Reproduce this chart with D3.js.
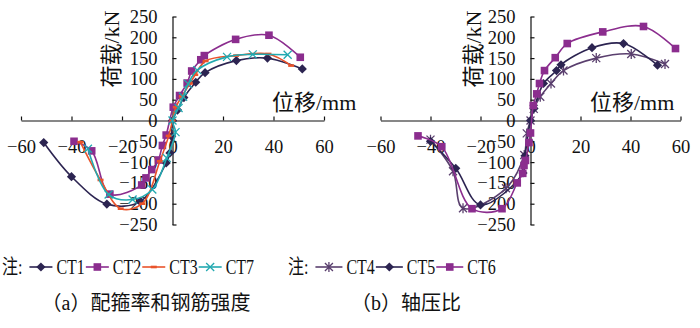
<!DOCTYPE html>
<html>
<head>
<meta charset="utf-8">
<script src="https://cdn.jsdelivr.net/npm/d3@7"></script>
<style>
  html, body { margin: 0; padding: 0; background: #fff; }
  svg { display: block; }
  text { font-family: "Liberation Serif", "Times New Roman", "Noto Sans CJK SC", serif; fill: #111; }
</style>
</head>
<body>
<div id="viz"></div>
<script>
// skeleton curves: [displacement (mm), load (kN)]
const ct1 = [[-51, -53], [-40, -135], [-26, -201], [-12.8, -195], [-2.5, -102], [-1, -78], [-0.3, -38], [0, 0],
  [2, 25], [4.5, 55], [9.2, 92], [12.9, 115], [25.3, 144], [37.6, 150], [51.4, 124]];
const ct2 = [[-39, -50], [-32, -73], [-24.8, -177], [-12.2, -155], [-10.5, -138], [-8.2, -118], [-5.6, -95], [-4, -60], [-2.5, -35],
  [0.3, 32], [2.8, 60], [5.8, 90], [7.6, 119], [11.2, 146], [12.6, 156], [25, 195], [38.2, 205], [50.6, 152]];
const ct3 = [[-36.5, -52], [-28.5, -143], [-20.5, -212], [-12, -200], [-5, -98], [-1.5, -37], [0, 0],
  [1.3, 32], [3.7, 58], [6.9, 89], [9, 110], [13.1, 143], [25.2, 156], [38, 160], [47, 132]];
const ct7 = [[-33.5, -68], [-25.3, -178], [-15.8, -190], [-8, -166], [-2.3, -90], [1.2, -28], [0, 0],
  [2.4, 30], [4.2, 57], [6.2, 88], [9.8, 121], [21.6, 153], [31.8, 159], [45.6, 158]];
const ct4 = [[-40, -46], [-31, -122], [-27, -211], [-9.8, -163], [-2.5, -83], [-1.5, -31], [0, 0],
  [1.3, 28], [3.9, 57], [8.2, 89], [13.2, 120], [26.3, 150], [40.3, 160], [53.8, 136]];
const ct5 = [[-40, -50], [-29.9, -115], [-20, -203], [-3, -126], [-2.2, -85], [0, 0],
  [1.4, 29], [5.2, 89], [10.4, 120], [12.2, 134], [24.6, 175], [37.2, 185], [50.8, 133]];
const ct6 = [[-45, -37], [-35.5, -63], [-23.4, -212], [-11.4, -212], [-5.3, -150], [-3.1, -127], [-2.6, -108], [-2, -96],
  [-0.6, -53], [0, -30], [1.1, 36], [2.5, 64], [3.6, 89], [5.6, 120], [9.9, 151], [14.7, 185], [28.9, 213], [45.2, 226], [58, 173]];

const xTicks = [-60, -40, -20, 0, 20, 40, 60];
const yTicks = [-250, -200, -150, -100, -50, 0, 50, 100, 150, 200, 250];
const xTitle = '位移/mm';
const yTitle = '荷载/kN';

const NAVY = '#2c2451', PURPLE = '#8b2d8e', ORANGE = '#e9532b', TEAL = '#22a9b0', PLUM = '#5a3f6e';

const panels = [
  {
    xRange: [21, 324], xTitleX: 272, yTitleX: 111, legendX: 2, lineLen: 23,
    caption: '（a）配箍率和钢筋强度', captionX: 146,
    series: [
      { name: 'CT1', data: ct1, color: NAVY, marker: 'diamond' },
      { name: 'CT2', data: ct2, color: PURPLE, marker: 'square' },
      { name: 'CT3', data: ct3, color: ORANGE, marker: 'dash' },
      { name: 'CT7', data: ct7, color: TEAL, marker: 'cross' }
    ]
  },
  {
    xRange: [380.5, 680.5], xTitleX: 590, yTitleX: 473, legendX: 288, lineLen: 27,
    caption: '（b）轴压比', captionX: 406,
    series: [
      { name: 'CT4', data: ct4, color: PLUM, marker: 'star' },
      { name: 'CT5', data: ct5, color: NAVY, marker: 'diamond' },
      { name: 'CT6', data: ct6, color: PURPLE, marker: 'square' }
    ]
  }
];

const svg = d3.select('#viz').append('svg').attr('width', 700).attr('height', 328);
const fmt = d => (d < 0 ? '\u2212' + Math.abs(d) : String(d));

function drawMarker(sel, type, color) {
  if (type === 'diamond') {
    sel.append('path').attr('d', 'M0,-4.6L4.6,0L0,4.6L-4.6,0Z').attr('fill', color);
  } else if (type === 'square') {
    sel.append('rect').attr('x', -3.8).attr('y', -3.8).attr('width', 7.6).attr('height', 7.6).attr('fill', color);
  } else if (type === 'dash') {
    sel.append('rect').attr('x', -3).attr('y', -1.3).attr('width', 6).attr('height', 2.6).attr('fill', color);
  } else if (type === 'cross') {
    sel.append('path').attr('d', 'M-4,-4L4,4M-4,4L4,-4').attr('stroke', color).attr('stroke-width', 1.3);
  } else if (type === 'star') {
    sel.append('path').attr('d', 'M-4,-4L4,4M-4,4L4,-4M0,-5L0,5').attr('stroke', color).attr('stroke-width', 1.3);
  }
}

panels.forEach(p => {
  const x = d3.scaleLinear().domain([-60, 60]).range(p.xRange);
  const y = d3.scaleLinear().domain([-250, 250]).range([224.5, 16.5]);
  const g = svg.append('g');

  const gx = g.append('g')
    .attr('transform', `translate(0,${y(0)})`)
    .call(d3.axisBottom(x).tickValues(xTicks).tickFormat(fmt)
      .tickSizeInner(-4).tickSizeOuter(0).tickPadding(19));
  const gy = g.append('g')
    .attr('transform', `translate(${x(0)},0)`)
    .call(d3.axisLeft(y).tickValues(yTicks).tickFormat(fmt)
      .tickSizeInner(-4).tickSizeOuter(0).tickPadding(15));
  [gx, gy].forEach(a => {
    a.attr('font-size', null).attr('font-family', null);
    a.selectAll('text').style('font-size', '18.5px').attr('fill', '#111');
    a.selectAll('path,line').attr('stroke', '#111').attr('stroke-width', 1.2);
  });

  g.append('text')
    .attr('transform', `translate(${p.yTitleX},49) rotate(-90)`)
    .attr('text-anchor', 'middle').attr('dy', '0.35em')
    .style('font-size', '22px').text(yTitle);
  g.append('text')
    .attr('x', p.xTitleX).attr('y', 110)
    .style('font-size', '22px').text(xTitle);

  const line = d3.line().x(d => x(d[0])).y(d => y(d[1])).curve(d3.curveCatmullRom.alpha(0.5));

  p.series.forEach(s => {
    g.append('path').datum(s.data)
      .attr('fill', 'none').attr('stroke', s.color).attr('stroke-width', 1.6)
      .attr('d', line);
    g.selectAll(null).data(s.data).join('g')
      .attr('transform', d => `translate(${x(d[0])},${y(d[1])})`)
      .each(function () { drawMarker(d3.select(this), s.marker, s.color); });
  });

  // legend row
  const ly = 267, squeeze = 0.78;
  const lg = g.append('g');
  const note = lg.append('text')
    .attr('transform', `translate(${p.legendX},${ly}) scale(${squeeze},1)`)
    .attr('dy', '0.35em').style('font-size', '20.5px').text('注:');
  let cx = p.legendX + note.node().getComputedTextLength() * squeeze + 7;
  p.series.forEach(s => {
    lg.append('line').attr('x1', cx).attr('x2', cx + p.lineLen).attr('y1', ly).attr('y2', ly)
      .attr('stroke', s.color).attr('stroke-width', 1.6);
    drawMarker(lg.append('g').attr('transform', `translate(${cx + p.lineLen / 2},${ly})`), s.marker, s.color);
    cx += p.lineLen + 4;
    const t = lg.append('text')
      .attr('transform', `translate(${cx},${ly}) scale(${squeeze},1)`)
      .attr('dy', '0.35em').style('font-size', '20.5px').text(s.name);
    cx += t.node().getComputedTextLength() * squeeze + 1;
  });

  g.append('text')
    .attr('x', p.captionX).attr('y', 303).attr('dy', '0.35em')
    .attr('text-anchor', 'middle').style('font-size', '20px').text(p.caption);
});
</script>
</body>
</html>
